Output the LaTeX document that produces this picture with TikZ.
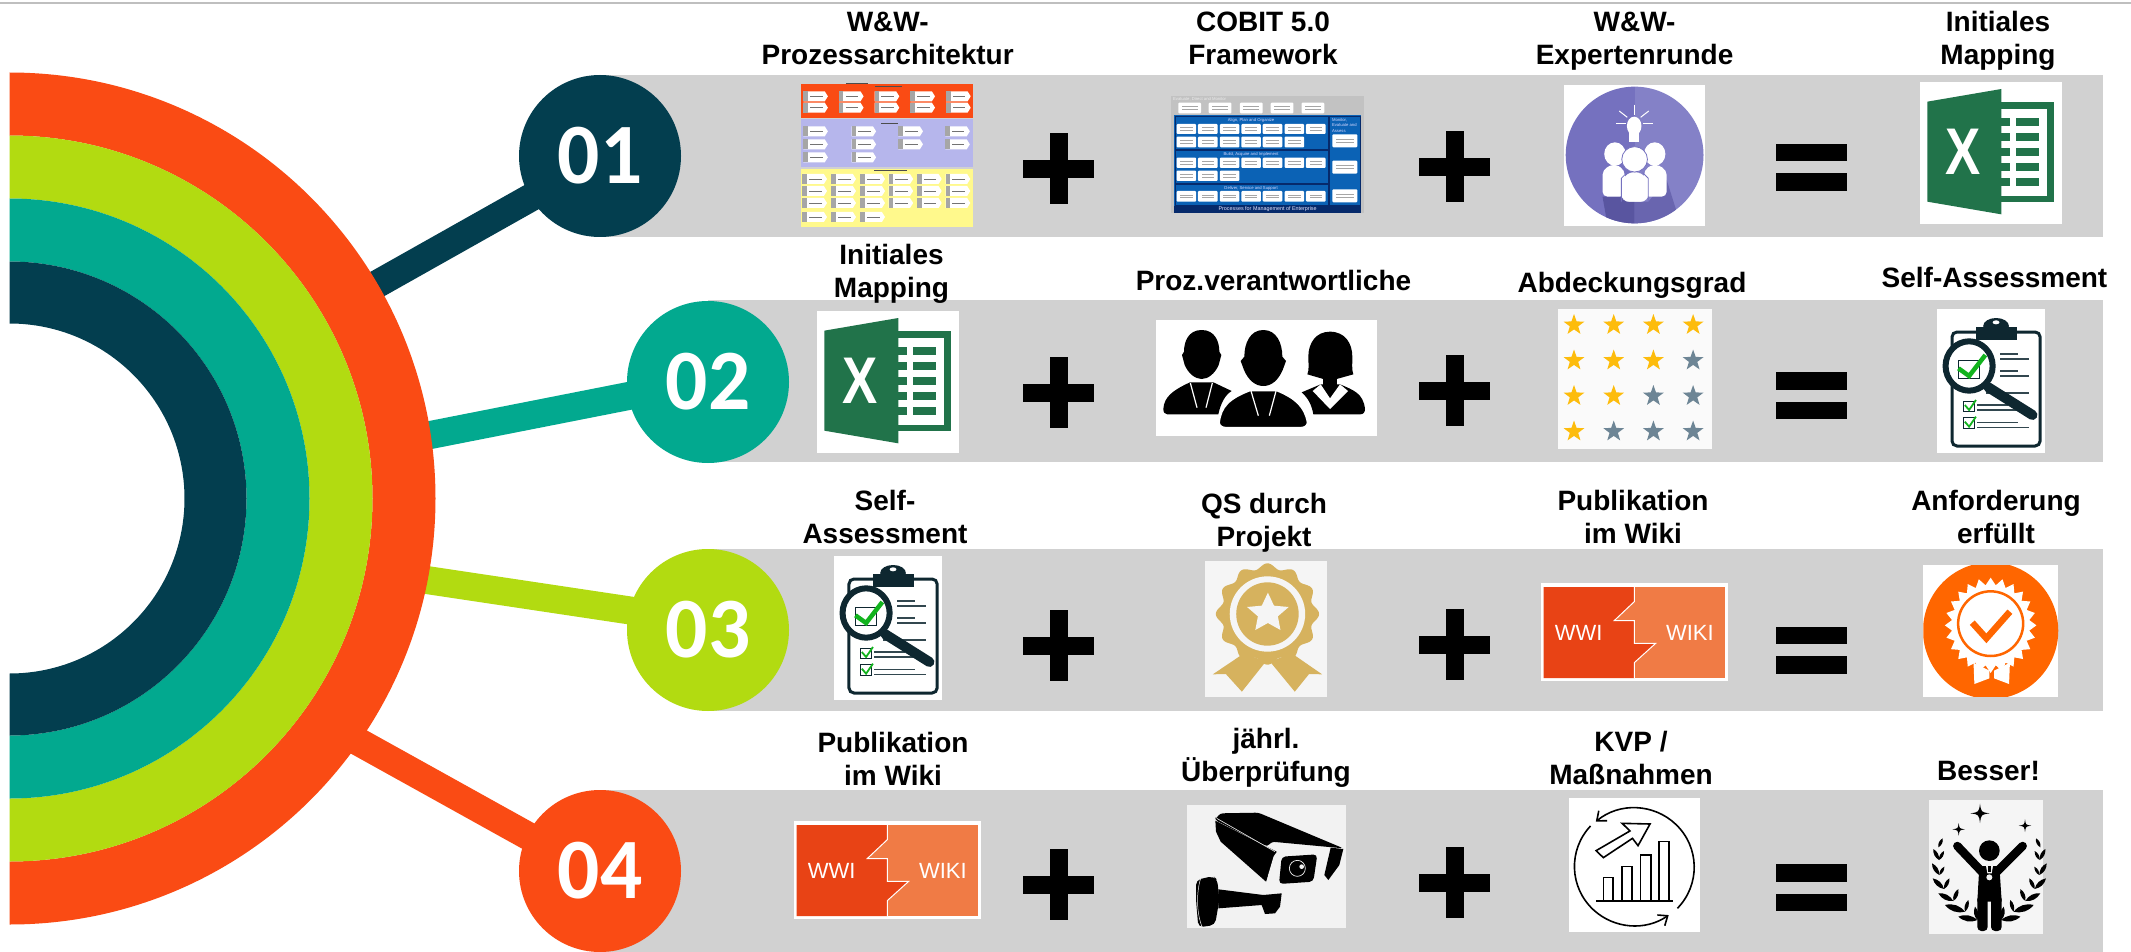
\documentclass[tikz,border=0pt]{standalone}
\usepackage{fontspec}
\setmainfont{Liberation Sans}
\newfontfamily\numfont{Carlito}
\usetikzlibrary{arrows.meta}
\pgfdeclarelayer{bglayer}
\pgfdeclarelayer{midlayer}
\pgfsetlayers{bglayer,midlayer,main}
\definecolor{cnavy}{HTML}{033E4F}
\definecolor{cteal}{HTML}{02A98F}
\definecolor{clime}{HTML}{B2DB11}
\definecolor{corange}{HTML}{FA4B14}
\definecolor{cband}{HTML}{D1D1D1}
\definecolor{cexcel}{HTML}{21734A}
\definecolor{cdark}{HTML}{0E2730}
\definecolor{ccheck}{HTML}{12B31E}
\definecolor{cgold}{HTML}{D6B25E}
\definecolor{cfire}{HTML}{FF6600}
\definecolor{cwikia}{HTML}{E84315}
\definecolor{cwikib}{HTML}{F07B45}
\definecolor{cpurpa}{HTML}{7571BF}
\definecolor{cpurpb}{HTML}{8481C7}
\definecolor{cpurpc}{HTML}{5955A0}
\definecolor{cpurpd}{HTML}{6965AF}
\definecolor{cobblue}{HTML}{0B62B5}
\definecolor{cobnavy}{HTML}{062A6B}
\definecolor{cstar}{HTML}{FDBC0C}
\definecolor{cslate}{HTML}{6D8595}
\definecolor{cpanel}{HTML}{F2F2F2}
\newcommand{\procbox}[2]{%
  \fill[white] (#1,#2) -- ++(48,0) -- ++(7,15) -- ++(-7,15) -- ++(-48,0) -- cycle;
  \fill[gray!70] (#1,#2) rectangle ++(10,30);
  \fill[black!55] (#1+15,#2+14) rectangle ++(28,2);
}
\newcommand{\cobbox}[4]{\fill[white,rounded corners=1pt] (#1,#2) rectangle ++(#3,#4);
  \fill[black!35] (#1+8,#2+#4*0.35) rectangle ++(#3-16,1.5);
  \fill[black!35] (#1+8,#2+#4*0.6) rectangle ++(#3-16,1.5);}
\tikzset{
  labeltext/.style={font=\bfseries\fontsize{28}{33}\selectfont,align=center,anchor=base,inner sep=0pt,text=black},
  numcircle/.style={circle,minimum size=162pt,inner sep=0pt,text=white,font=\numfont\bfseries\fontsize{86}{86}\selectfont},
  linkline/.style={line width=28pt},
  band/.style={fill=cband},
  cobhead/.style={inner sep=0pt,text=white!85!blue,font=\fontsize{4.2}{5.5}\selectfont},
  z1/.style={shift={(760,0)},xscale=0.44643,yscale=0.33333},
  z2/.style={shift={(1460,0)},xscale=0.42793,yscale=0.33333},
  z3/.style={shift={(780,240)},xscale=0.43367,yscale=0.33333},
  z4/.style={shift={(1460,240)},xscale=0.42793,yscale=0.33333},
  z5/.style={shift={(780,480)},xscale=0.43367,yscale=0.33333},
  z6/.style={shift={(1460,480)},xscale=0.42793,yscale=0.33333},
  z7/.style={shift={(780,720)},xscale=0.43367,yscale=0.33333},
  z8/.style={shift={(1460,720)},xscale=0.42793,yscale=0.33333},
  plusmark/.pic={\fill[black] (-35.5,-9) rectangle (35.5,9); \fill[black] (-9,-35.5) rectangle (9,35.5);},
  equalmark/.pic={\fill[black] (-35.5,-23.5) rectangle (35.5,-6); \fill[black] (-35.5,6) rectangle (35.5,23.5);},
  starmark/.pic={\fill (-90:11) -- (-54:4.4) -- (-18:11) -- (18:4.4) -- (54:11) -- (90:4.4) -- (126:11) -- (162:4.4) -- (198:11) -- (234:4.4) -- cycle;},
  excelicon/.pic={
    \begin{scope}[xscale=0.42793,yscale=0.33333,shift={(-1075,-246)}]
      \fill[white] (1075,246) rectangle (1407,672);
      \fill[cexcel] (1265,307) rectangle (1388,607);
      \fill[white] (1265,327) rectangle (1372,587);
      \foreach \yy in {355,400,444,489,533}{
        \fill[cexcel] (1300,\yy) rectangle (1352,\yy+24);
        \fill[cexcel] (1265,\yy) rectangle (1285,\yy+24);
      }
      \fill[cexcel] (1092,305) -- (1265,267) -- (1265,643) -- (1092,605) -- cycle;
      \node[inner sep=0pt,text=white,font=\bfseries\fontsize{66}{66}\selectfont] at (1176,454) {\scalebox{0.8}[1]{X}};
    \end{scope}},
  clipicon/.pic={
    \begin{scope}[xscale=0.42793,yscale=0.33333,shift={(-1115,-207)}]
      \fill[white] (1115,207) rectangle (1367,638);
      \draw[cdark,line width=3pt,fill=white,rounded corners=5pt] (1150,276) rectangle (1356,618);
      \fill[cdark] (1205,262) rectangle (1303,300);
      \fill[cdark] (1253,258) ellipse [x radius=30,y radius=24];
      \fill[white] (1253,247) ellipse [x radius=8,y radius=6];
      \foreach \xa/\xb/\yy in {1262/1305/341,1262/1330/356,1262/1305/392,1262/1330/407,1230/1330/458,1208/1280/494,1208/1305/510,1208/1305/547,1208/1330/562}{
        \fill[cdark!85] (\xa,\yy-2.5) rectangle (\xb,\yy+2.5);
      }
      \draw[cdark,line width=1pt] (1178,483) rectangle (1202,515);
      \draw[cdark,line width=1pt] (1178,533) rectangle (1202,565);
      \draw[ccheck,line width=1.8pt] (1180,495) -- (1190,510) -- (1206,480);
      \draw[ccheck,line width=1.8pt] (1180,545) -- (1190,560) -- (1206,530);
      \draw[cdark,line width=10pt,line cap=round] (1235,442) -- (1338,525);
      \fill[white] (1190,378) ellipse [x radius=55,y radius=74];
      \draw[cdark,line width=1pt] (1165,360) rectangle (1215,415);
      \draw[ccheck,line width=4.5pt] (1165,385) -- (1190,408) -- (1228,345);
      \draw[cdark,line width=6pt] (1190,378) ellipse [x radius=55,y radius=74];
    \end{scope}},
  wikiicon/.pic={
    \begin{scope}[xscale=0.42793,yscale=0.33333,shift={(-189,-309)}]
      \fill[white] (189,309) rectangle (626,602);
      \fill[cwikib] (195,321) rectangle (620,594);
      \fill[cwikia] (195,321) -- (407,321) -- (407,365) -- (360,422) -- (407,422) -- (407,490) -- (457,490) -- (407,548) -- (407,594) -- (195,594) -- cycle;
      \draw[white,line width=1pt] (407,321) -- (407,365) -- (360,422) -- (407,422) -- (407,490) -- (457,490) -- (407,548) -- (407,594);
      \node[inner sep=0pt,text=white,font=\fontsize{22}{22}\selectfont] at (277,458) {WWI};
      \node[inner sep=0pt,text=white,font=\fontsize{22}{22}\selectfont] at (537,458) {WIKI};
    \end{scope}},
}
\begin{document}
\begin{tikzpicture}[x=1pt,y=-1pt]
\useasboundingbox (0,0) rectangle (2131,952);
% ---- layers: page, bands
\begin{pgfonlayer}{bglayer}
  \fill[white] (0,0) rectangle (2131,952);
  \fill[black!25] (0,2.5) rectangle (2131,4.5);
  \fill[band] (600,75) rectangle (2103,237);
  \fill[band] (708,300) rectangle (2103,462);
  \fill[band] (708,549) rectangle (2103,711);
  \fill[band] (600,790) rectangle (2103,952);
\end{pgfonlayer}
% ---- numbered circles
\node[numcircle,fill=cnavy] (c1) at (600,156) {\scalebox{0.97}[1]{01}};
\node[numcircle,fill=cteal] (c2) at (708,382) {\scalebox{0.97}[1]{02}};
\node[numcircle,fill=clime] (c3) at (708,630) {\scalebox{0.97}[1]{03}};
\node[numcircle,fill=corange] (c4) at (600,871) {\scalebox{0.97}[1]{04}};
\coordinate (a1) at (340,305);
\coordinate (a2) at (400,441);
\coordinate (a3) at (400,576);
\coordinate (a4) at (330,726);
\begin{pgfonlayer}{midlayer}
  \draw[linkline,cnavy,shorten <=-8pt] (c1.211) -- (a1);
  \draw[linkline,cteal,shorten <=-8pt] (c2.190) -- (a2);
  \draw[linkline,clime,shorten <=-8pt] (c3.166) -- (a3);
  \draw[linkline,corange,shorten <=-8pt] (c4.154.6) -- (a4);
  % concentric half rings
  \foreach \ro/\ri/\col in {426/363/corange,363/300/clime,300/237/cteal,237/175/cnavy}{
    \fill[\col] (9.5,498.5-\ro) arc[start angle=-90,end angle=90,radius=\ro] -- (9.5,498.5+\ri) arc[start angle=90,end angle=-90,radius=\ri] -- cycle;
  }
\end{pgfonlayer}
% ---- labels (anchored on the baseline of the last line)
\node[labeltext] (l11) at (887.7,65) {W\&W-\\Prozessarchitektur};
\node[labeltext] (l12) at (1263,65) {COBIT 5.0\\Framework};
\node[labeltext] (l13) at (1634.6,65) {W\&W-\\Expertenrunde};
\node[labeltext] (l14) at (1998,65) {Initiales\\Mapping};
\node[labeltext] (l21) at (891.5,297) {Initiales\\Mapping};
\node[labeltext] (l22) at (1273.5,290) {Proz.verantwortliche};
\node[labeltext] (l23) at (1632,292) {Abdeckungsgrad};
\node[labeltext] (l24) at (1994.5,287) {Self-Assessment};
\node[labeltext] (l31) at (885,543) {Self-\\Assessment};
\node[labeltext] (l32) at (1264,546) {QS durch\\Projekt};
\node[labeltext] (l33) at (1633,543) {Publikation\\im Wiki};
\node[labeltext] (l34) at (1996,543) {Anforderung\\erfüllt};
\node[labeltext] (l41) at (893,785) {Publikation\\im Wiki};
\node[labeltext] (l42) at (1266,781) {jährl.\\Überprüfung};
\node[labeltext] (l43) at (1631,784) {KVP /\\Maßnahmen};
\node[labeltext] (l44) at (1988.5,780) {Besser!};
% ---- operators
\pic at (1058.5,169) {plusmark};
\pic at (1454.5,167) {plusmark};
\pic at (1058.5,392.5) {plusmark};
\pic at (1454.5,390.5) {plusmark};
\pic at (1058.5,645.5) {plusmark};
\pic at (1454.5,644.5) {plusmark};
\pic at (1058.5,884.5) {plusmark};
\pic at (1454.5,882.5) {plusmark};
\pic at (1811.5,167.5) {equalmark};
\pic at (1811.5,395.5) {equalmark};
\pic at (1811.5,650) {equalmark};
\pic at (1811.5,887.5) {equalmark};
% ---- repeated icons
\pic at (1920,82) {excelicon};
\pic at (817,311) {excelicon};
\pic at (1937,309) {clipicon};
\pic at (834,556) {clipicon};
\pic at (1541,583) {wikiicon};
\pic at (794,821) {wikiicon};
% ---- process architecture
\begin{scope}[z1]
  \fill[black!70] (193,248) rectangle (243,252);
  \fill[corange] (92,252) rectangle (478,353);
  \fill[blue!25!white!85!gray] (92,356) rectangle (478,502);
  \fill[yellow!45!white] (92,506) rectangle (478,682);
  \fill[black!70] (258,257) rectangle (318,260);
  \fill[black!70] (270,368) rectangle (310,371);
  \fill[black!70] (255,509) rectangle (330,512);
  \foreach \xx in {97,177,257,337,417}{\procbox{\xx}{274}\procbox{\xx}{308}}
  \foreach \xx in {97,205,310,415}{\procbox{\xx}{379}\procbox{\xx}{418}}
  \foreach \xx in {97,205}{\procbox{\xx}{457}}
  \foreach \xx in {95,160,225,288,352,416}{\procbox{\xx}{522}\procbox{\xx}{558}\procbox{\xx}{594}}
  \foreach \xx in {95,160,225}{\procbox{\xx}{636}}
\end{scope}
% ---- COBIT
\begin{scope}[z1]
  \fill[black!24] (920,287) rectangle (1353,640);
  \fill[cobblue] (928,346) rectangle (1347,640);
  \fill[cobnavy] (928,617) rectangle (1347,640);
  \draw[cobnavy,line width=0.7pt] (930,349) rectangle (1272,449);
  \draw[cobnavy,line width=0.7pt] (930,451) rectangle (1272,551);
  \draw[cobnavy,line width=0.7pt] (930,553) rectangle (1272,615);
  \draw[cobnavy,line width=0.7pt] (1275,349) rectangle (1345,615);
  \foreach \xx in {937,1005,1075,1144,1213}{\cobbox{\xx}{308}{51}{32}}
  \foreach \xx in {933,981,1030,1078,1126,1175,1223}{\cobbox{\xx}{372}{44}{30}\cobbox{\xx}{473}{44}{31}\cobbox{\xx}{573}{44}{32}}
  \foreach \xx in {933,981,1030,1078,1126,1175}{\cobbox{\xx}{410}{44}{32}}
  \foreach \xx in {933,981,1030}{\cobbox{\xx}{512}{44}{31}}
  \foreach \yy in {403,482,568}{\cobbox{1282}{\yy}{56}{39}}
  \node[cobhead,anchor=west,text=white!85!gray] (cob1) at (925,299) {Evaluate, Direct and Monitor};
  \node[cobhead] (cob2) at (1100,360) {Align, Plan and Organize};
  \node[cobhead] (cob3) at (1100,463) {Build, Acquire and Implement};
  \node[cobhead] (cob4) at (1100,564) {Deliver, Service and Support};
  \node[cobhead,anchor=north west,align=left] (cob5) at (1281,354) {Monitor,\\Evaluate and\\Assess};
  \node[cobhead,text=white!90!blue,font=\fontsize{5.4}{6}\selectfont] (cob6) at (1137,628) {Processes for Management of Enterprise};
\end{scope}
% ---- experts
\begin{scope}[z2]
  \fill[white] (243,255) rectangle (573,677);
  \begin{scope}
    \clip (408,465) ellipse [x radius=161,y radius=205];
    \fill[cpurpa] (243,255) rectangle (408,677);
    \fill[cpurpb] (408,255) rectangle (573,677);
    \fill[cpurpc] (333,590) -- (408,590) -- (408,677) -- (345,677) -- cycle;
    \fill[cpurpd] (408,605) -- (440,605) -- (483,540) -- (505,630) -- (470,677) -- (408,677) -- cycle;
  \end{scope}
  \fill[white] (407,378) ellipse [x radius=17,y radius=28];
  \fill[white] (396,400) rectangle (418,425);
  \draw[white,line width=1pt] (407,314) -- (407,345);
  \draw[white,line width=1pt] (372,333) -- (391,352);
  \draw[white,line width=1pt] (441,333) -- (422,352);
  \draw[white,line width=1pt] (365,372) -- (387,372);
  \draw[white,line width=1pt] (428,372) -- (450,372);
  \fill[white] (362,462) ellipse [x radius=25,y radius=35];
  \fill[white] (455,462) ellipse [x radius=25,y radius=35];
  \fill[white,rounded corners=5pt] (333,590) -- (333,510) -- (360,490) -- (385,510) -- (385,590) -- cycle;
  \fill[white,rounded corners=5pt] (430,590) -- (430,510) -- (455,490) -- (483,510) -- (483,590) -- cycle;
  \draw[white,fill=white,rounded corners=8pt] (377,605) -- (377,535) -- (408,510) -- (440,535) -- (440,605) -- cycle;
  \draw[cpurpa,line width=0.8pt,fill=white] (408,478) ellipse [x radius=30,y radius=38];
  \draw[cpurpa,line width=0.8pt] (377,605) -- (377,535) -- (390,518);
  \draw[cpurpa,line width=0.8pt] (440,605) -- (440,535) -- (427,518);
\end{scope}
% ---- people (crop scale 1/3 from 1150,315)
\begin{scope}[shift={(1150,315)},scale=0.33333]
  \fill[white] (18,15) rectangle (680,362);
  \fill[black] (155,45) .. controls (195,45) and (208,80) .. (208,110) -- (214,120) -- (206,150) .. controls (195,175) and (175,192) .. (155,192) .. controls (135,192) and (115,175) .. (104,150) -- (96,120) -- (102,110) .. controls (102,80) and (115,45) .. cycle;
  \fill[black] (40,282) .. controls (42,245) and (70,225) .. (120,202) -- (190,202) -- (245,228) .. controls (225,240) and (212,265) .. (205,298) -- (52,298) .. controls (44,298) and (40,292) .. cycle;
  \draw[white,line width=1.2pt] (121,204) -- (141,278);
  \draw[white,line width=1.2pt] (187,204) -- (168,278);
  \fill[black] (540,50) .. controls (585,50) and (607,85) .. (607,125) .. controls (607,145) and (605,165) .. (610,178) -- (560,192) -- (520,192) -- (472,178) .. controls (478,165) and (475,145) .. (475,125) .. controls (475,85) and (497,50) .. cycle;
  \fill[black] (520,185) rectangle (560,240);
  \fill[black] (455,232) -- (512,208) -- (570,208) .. controls (610,225) and (640,235) .. (645,282) .. controls (645,292) and (640,298) .. (630,298) -- (490,298) .. controls (485,270) and (475,250) .. cycle;
  \fill[white] (488,228) -- (512,208) -- (540,250) -- (570,208) -- (594,228) -- (540,282) -- cycle;
  \fill[black] (340,45) .. controls (380,45) and (397,85) .. (397,125) -- (408,138) -- (398,165) .. controls (385,195) and (365,213) .. (340,213) .. controls (315,213) and (295,195) .. (282,165) -- (272,138) -- (283,125) .. controls (283,85) and (300,45) .. cycle;
  \draw[white,line width=2.5pt,fill=black] (206,322) .. controls (212,275) and (235,250) .. (300,225) -- (380,225) .. controls (440,250) and (465,275) .. (474,322) .. controls (474,332) and (465,339) .. (455,339) -- (225,339) .. controls (215,339) and (206,332) .. cycle;
  \draw[white,line width=1.2pt] (303,228) -- (325,302);
  \draw[white,line width=1.2pt] (378,228) -- (358,302);
\end{scope}
% ---- stars
\fill[white!98!black] (1558,309) rectangle (1712,449);
\foreach \col/\ix/\iy in {cstar/0/0,cstar/1/0,cstar/2/0,cstar/3/0,cstar/0/1,cstar/1/1,cstar/2/1,cslate/3/1,cstar/0/2,cstar/1/2,cslate/2/2,cslate/3/2,cstar/0/3,cslate/1/3,cslate/2/3,cslate/3/3}{
  \pic[\col] at ({1574+39.7*\ix},{325+35.5*\iy}) {starmark};
}
% ---- gold medal
\begin{scope}[z5]
  \fill[white!96!black] (980,243) rectangle (1261,651);
  \fill[cgold] (1070,520) -- (998,583) -- (1028,582) -- (1065,635) -- (1120,545) -- cycle;
  \fill[cgold] (1180,520) -- (1250,583) -- (1220,582) -- (1187,635) -- (1130,545) -- cycle;
  \fill[cgold] plot[domain=0:360,samples=180,variable=\t,smooth] ({1124+(112+7*cos(12*\t))*cos(\t)},{402+(144+8*cos(12*\t))*sin(\t)}) -- cycle;
  \fill[white!96!black] (1124,402) ellipse [x radius=87,y radius=113];
  \fill[cgold] (1124,402) ellipse [x radius=72,y radius=95];
  \fill[white!96!black] (1125,338) -- (1139,377) -- (1173,381) -- (1148,409) -- (1154,450) -- (1125,429) -- (1096,450) -- (1102,409) -- (1077,381) -- (1111,377) -- cycle;
\end{scope}
% ---- certificate
\begin{scope}[z6]
  \fill[white] (1083,255) rectangle (1398,650);
  \begin{scope}
    \clip (1083,255) rectangle (1398,650);
    \fill[cfire] (1240,452) ellipse [x radius=158,y radius=205];
  \end{scope}
  \fill[white] (1200,548) -- (1237,572) -- (1237,595) -- (1202,612) -- cycle;
  \fill[white] (1285,548) -- (1248,572) -- (1248,595) -- (1283,612) -- cycle;
  \fill[white] plot[domain=0:360,samples=49,variable=\t] ({1240+(99+8*cos(24*\t))*cos(\t)},{436+(132+11*cos(24*\t))*sin(\t)}) -- cycle;
  \draw[cfire,line width=2.5pt] (1240,431) ellipse [x radius=76,y radius=97];
  \draw[cfire,line width=6.5pt] (1197,428) -- (1230,475) -- (1285,395);
\end{scope}
% ---- camera (crop scale 1/3 from 1180,800)
\begin{scope}[shift={(1180,800)},scale=0.33333]
  \fill[cpanel] (22,15) rectangle (498,385);
  \fill[black] (115,268) -- (250,285) -- (305,280) -- (300,320) -- (285,340) -- (255,342) -- (245,315) -- (115,325) -- cycle;
  \fill[black,rounded corners=5pt] (48,240) -- (100,228) -- (112,240) -- (118,300) -- (105,375) -- (55,382) -- (48,300) -- cycle;
  \draw[cpanel,line width=0.5pt] (62,235) .. controls (48,280) and (50,340) .. (66,380);
  \fill[black] (106,62) -- (290,155) -- (258,245) -- (122,125) -- (108,95) -- cycle;
  \fill[black,rounded corners=3pt] (105,60) -- (120,40) -- (235,38) -- (490,145) -- (275,125) -- (262,140) -- (105,60) -- cycle;
  \draw[cpanel,line width=0.6pt] (110,55) -- (285,155);
  \fill[cpanel,rounded corners=5pt] (285,155) -- (452,143) -- (432,258) -- (265,268) -- (260,240) -- cycle;
  \fill[black,rounded corners=4pt] (305,170) -- (412,163) -- (400,245) -- (297,252) -- cycle;
  \draw[cpanel,line width=0.7pt] (352,205) circle [radius=24];
  \fill[cpanel] (365,200) circle [radius=7];
  \fill[black] (452,143) -- (490,147) -- (478,195) -- (445,240) -- (433,225) -- cycle;
\end{scope}
% ---- KVP
\begin{scope}[z8]
  \fill[white] (255,234) rectangle (561,636);
  \draw[black,line width=1.6pt,-{Straight Barb[length=8pt,width=13pt]}] (508,565) arc[start angle=44,end angle=-130,x radius=140,y radius=178];
  \draw[black,line width=1.6pt,-{Straight Barb[length=8pt,width=13pt]}] (305,318) arc[start angle=-137,end angle=-305,x radius=140,y radius=178];
  \draw[black,line width=1.6pt,line join=miter] (318,392) -- (397,333) -- (379,310) -- (444,312) -- (416,377) -- (403,355) -- (335,413) -- cycle;
  \foreach \xa/\xb/\yy in {335/358/472,378/402/440,422/446/405,465/488/365}{
    \draw[black,line width=1.6pt] (\xa,540) -- (\xa,\yy) -- (\xb,\yy) -- (\xb,540);
  }
  \draw[black,line width=2pt] (318,542) -- (497,542);
\end{scope}
% ---- winner (crop scale 1/3 from 1920,795)
\begin{scope}[shift={(1920,795)},scale=0.33333]
  \fill[white!96!black] (27,15) rectangle (369,417);
  \fill[black] (208,167) circle [radius=31];
  \draw[black,line width=8.5pt,line cap=round] (112,153) -- (190,235);
  \draw[black,line width=8.5pt,line cap=round] (308,153) -- (226,235);
  \fill[black] (178,213) -- (238,213) -- (245,320) -- (172,320) -- cycle;
  \fill[black,rounded corners=4pt] (172,300) rectangle (203,408);
  \fill[black,rounded corners=4pt] (213,300) rectangle (245,408);
  \fill[black!5] (197,207) -- (220,207) -- (215,235) -- (202,235) -- cycle;
  \fill[black] (204,212) -- (212,212) -- (212,232) -- (204,232) -- cycle;
  \fill[black!5] (208,247) circle [radius=9];
  \foreach \cx/\cy/\rr in {180/55/29,116/103/19,315/92/19}{
    \fill[black] (\cx,\cy-\rr) .. controls (\cx+\rr*.12,\cy-\rr*.12) .. (\cx+\rr,\cy) .. controls (\cx+\rr*.12,\cy+\rr*.12) .. (\cx,\cy+\rr) .. controls (\cx-\rr*.12,\cy+\rr*.12) .. (\cx-\rr,\cy) .. controls (\cx-\rr*.12,\cy-\rr*.12) .. cycle;
  }
  \foreach \mx/\sg in {0/1,416/-1}{
    \begin{scope}[shift={(\mx,0)},xscale=\sg]
      \fill[black] (55,157) to[bend left=35] (68,130) to[bend left=35] cycle;
      \foreach \bx/\by/\ax/\ay/\cx/\cy in {57/195/40/162/72/168,58/240/36/205/73/215,72/282/38/250/88/250,100/318/55/295/115/282,135/350/75/330/145/315,172/375/115/365/165/335}{
        \fill[black] (\bx,\by) to[bend left=32] (\ax,\ay) to[bend left=32] cycle;
        \fill[black] (\bx,\by) to[bend left=32] (\cx,\cy) to[bend left=32] cycle;
      }
    \end{scope}
  }
\end{scope}
\end{tikzpicture}
\end{document}
